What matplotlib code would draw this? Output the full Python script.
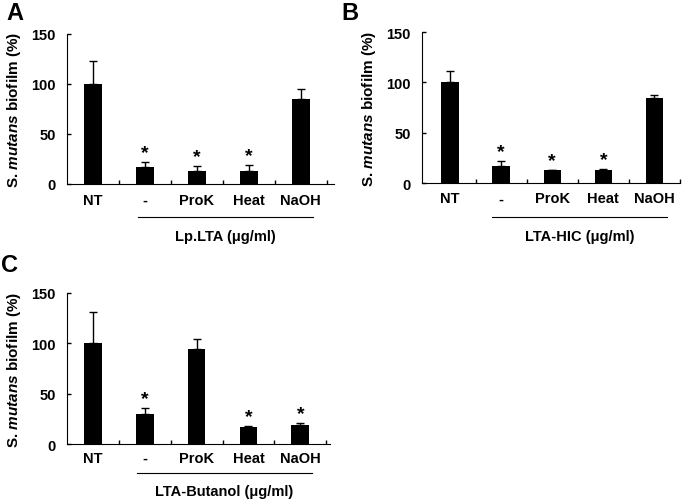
import numpy as np
import matplotlib.pyplot as plt

plt.rcParams['font.family'] = ['Liberation Sans', 'DejaVu Sans']
plt.rcParams['font.weight'] = 'bold'
plt.rcParams['mathtext.fontset'] = 'custom'
plt.rcParams['mathtext.it'] = 'Liberation Sans:italic:bold'
plt.rcParams['mathtext.rm'] = 'Liberation Sans:bold'

categorias = ['NT', '-', 'ProK', 'Heat', 'NaOH']

# Panel A: Lp.LTA
valores_a = [100, 17, 13, 13, 85]
errores_a = [23, 5, 5, 6, 10]
signif_a = [False, True, True, True, False]

# Panel B: LTA-HIC
valores_b = [100, 17, 13, 13, 85]
errores_b = [11, 5, 0, 1.5, 2.5]
signif_b = [False, True, True, True, False]

# Panel C: LTA-Butanol
valores_c = [100, 30, 94, 17, 19]
errores_c = [31, 6, 10, 1, 1.5]
signif_c = [False, True, False, True, True]

# (letra, valores, errores, signif, etiqueta, posicion, xlim, linea,
#  y categorias, y linea, y etiqueta, posicion letra)
paneles = [
    ('A', valores_a, errores_a, signif_a, 'Lp.LTA (μg/ml)',
     [0.098, 0.6315, 0.391, 0.299], (-0.5, 4.65), (0.87, 4.23),
     -16, -33, -52, (15, 13)),
    ('B', valores_b, errores_b, signif_b, 'LTA-HIC (μg/ml)',
     [0.617, 0.633, 0.377, 0.301], (-0.55, 4.5), (0.83, 4.24),
     -15, -34, -52, (350, 13)),
    ('C', valores_c, errores_c, signif_c, 'LTA-Butanol (μg/ml)',
     [0.098, 0.1135, 0.385, 0.301], (-0.5, 4.58), (0.85, 4.23),
     -14, -29, -47, (10, 265)),
]

fig = plt.figure(figsize=(6.84, 5.02), dpi=100)

for (letra, vals, errs, sig, etiqueta, pos, xlim, linea,
     y_cat, y_lin, y_eti, letra_pos) in paneles:
    ax = fig.add_axes(pos)
    x = np.arange(len(categorias))
    ax.bar(x, vals, width=0.34, color='black')
    ax.errorbar(x, vals, yerr=[np.zeros(len(vals)), errs], fmt='none',
                ecolor='black', elinewidth=1, capsize=3, capthick=1)
    for xi, v, e, s in zip(x, vals, errs, sig):
        if s:
            ax.text(xi, v + e + 1, '*', ha='center', va='bottom',
                    fontsize=14, fontweight='bold')
    ax.set_xlim(*xlim)
    ax.set_ylim(0, 150)
    ax.set_yticks([0, 50, 100, 150])
    ax.set_xticks(np.arange(0.5, 5, 1))
    ax.set_xticklabels([])
    ax.tick_params(axis='both', direction='in', length=3, width=1)
    ax.tick_params(axis='y', labelsize=10.5, pad=8)
    for lbl in ax.get_yticklabels():
        lbl.set_fontweight('bold')
    for xi, c in zip(x, categorias):
        ax.text(xi, y_cat, c, ha='center', va='center', fontsize=10.5,
                fontweight='bold', clip_on=False)
    ax.spines['top'].set_visible(False)
    ax.spines['right'].set_visible(False)
    ax.set_ylabel(r'S. $\mathit{mutans}$ biofilm (%)', fontsize=11,
                  fontweight='bold', labelpad=6)
    ax.plot(linea, [y_lin, y_lin], color='black', linewidth=0.8,
            clip_on=False)
    ax.text(np.mean(linea), y_eti, etiqueta, ha='center', va='center',
            fontsize=10.5, fontweight='bold', clip_on=False)
    fig.text(letra_pos[0] / 684, 1 - letra_pos[1] / 502, letra,
             fontsize=17, fontweight='bold', ha='center', va='center')

fig.savefig('out.png', dpi=100)
